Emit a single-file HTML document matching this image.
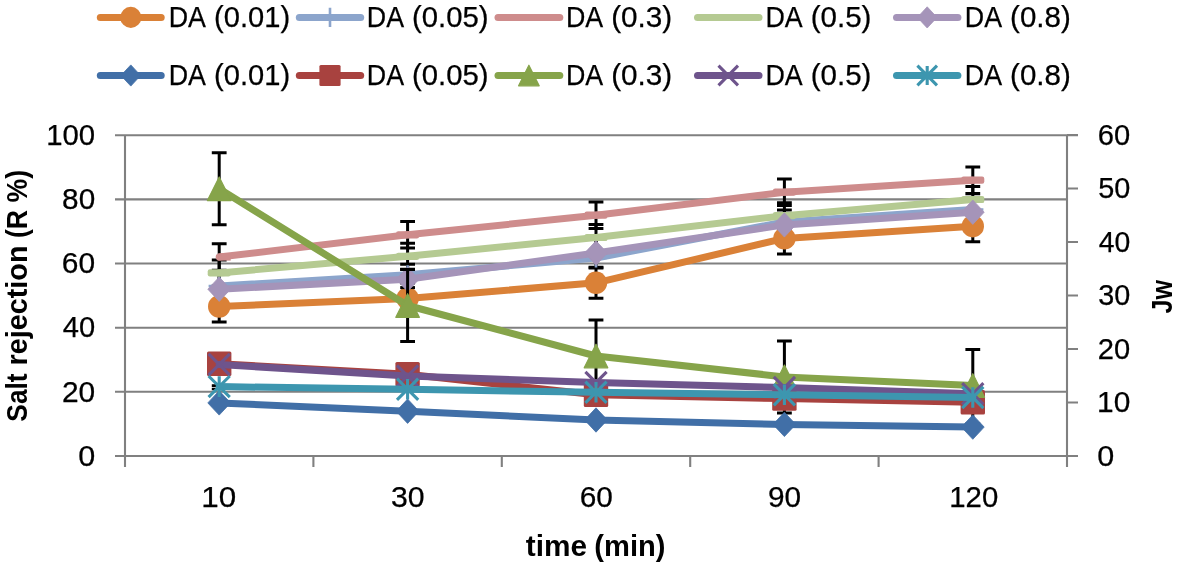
<!DOCTYPE html>
<html><head><meta charset="utf-8"><title>chart</title>
<style>
html,body{margin:0;padding:0;background:#fff;}
body{width:1181px;height:566px;overflow:hidden;}
svg{display:block;will-change:transform;}
text{font-family:"Liberation Sans",sans-serif;fill:#000;font-kerning:none;}
text.r{stroke:#000;stroke-width:0.25px;}
</style></head><body>
<svg width="1181" height="566" viewBox="0 0 1181 566">
<rect width="1181" height="566" fill="#fff"/>

<path d="M115 456.0H1078 M115 391.8H1067 M115 327.7H1067 M115 263.5H1067 M115 199.4H1067 M115 135.2H1078 M1067 456.0H1078 M1067 402.5H1078 M1067 349.0H1078 M1067 295.5H1078 M1067 242.0H1078 M1067 188.5H1078 M1067 135.0H1078 M125 135.2V467 M1067 135.2V467 M125.0 456V467 M313.4 456V467 M501.8 456V467 M690.2 456V467 M878.6 456V467 M1067.0 456V467" stroke="#808080" stroke-width="2.1" fill="none"/>
<text x="78.21" y="465.80" font-size="28.6" class="r" textLength="16.99" lengthAdjust="spacingAndGlyphs">0</text>
<text x="61.90" y="401.64" font-size="28.6" class="r" textLength="33.27" lengthAdjust="spacingAndGlyphs">20</text>
<text x="62.73" y="337.48" font-size="28.6" class="r" textLength="32.41" lengthAdjust="spacingAndGlyphs">40</text>
<text x="61.88" y="273.32" font-size="28.6" class="r" textLength="33.29" lengthAdjust="spacingAndGlyphs">60</text>
<text x="62.11" y="209.16" font-size="28.6" class="r" textLength="33.05" lengthAdjust="spacingAndGlyphs">80</text>
<text x="46.16" y="145.00" font-size="28.6" class="r" textLength="48.98" lengthAdjust="spacingAndGlyphs">100</text>
<text x="1097.21" y="465.80" font-size="28.6" class="r" textLength="16.99" lengthAdjust="spacingAndGlyphs">0</text>
<text x="1097.02" y="412.30" font-size="28.6" class="r" textLength="33.24" lengthAdjust="spacingAndGlyphs">10</text>
<text x="1097.83" y="358.80" font-size="28.6" class="r" textLength="32.40" lengthAdjust="spacingAndGlyphs">20</text>
<text x="1098.20" y="305.30" font-size="28.6" class="r" textLength="32.02" lengthAdjust="spacingAndGlyphs">30</text>
<text x="1098.65" y="251.80" font-size="28.6" class="r" textLength="31.56" lengthAdjust="spacingAndGlyphs">40</text>
<text x="1098.15" y="198.30" font-size="28.6" class="r" textLength="32.08" lengthAdjust="spacingAndGlyphs">50</text>
<text x="1097.82" y="144.80" font-size="28.6" class="r" textLength="32.42" lengthAdjust="spacingAndGlyphs">60</text>
<text x="201.31" y="507.10" font-size="28.6" class="r" textLength="34.92" lengthAdjust="spacingAndGlyphs">10</text>
<text x="391.05" y="507.10" font-size="28.6" class="r" textLength="33.63" lengthAdjust="spacingAndGlyphs">30</text>
<text x="579.79" y="507.10" font-size="28.6" class="r" textLength="33.18" lengthAdjust="spacingAndGlyphs">60</text>
<text x="768.00" y="507.10" font-size="28.6" class="r" textLength="33.16" lengthAdjust="spacingAndGlyphs">90</text>
<text x="949.26" y="507.10" font-size="28.6" class="r" textLength="48.98" lengthAdjust="spacingAndGlyphs">120</text>
<text x="525.84" y="555.70" font-size="28.6" font-weight="bold" textLength="61.28" lengthAdjust="spacingAndGlyphs">time</text>
<text x="594.35" y="555.70" font-size="28.6" font-weight="bold" textLength="71.10" lengthAdjust="spacingAndGlyphs">(min)</text>
<g transform="translate(26.5,0) rotate(-90)">
<text x="-421.66" y="0.00" font-size="29.6" font-weight="bold" textLength="48.28" lengthAdjust="spacingAndGlyphs">Salt</text>
<text x="-365.40" y="0.00" font-size="29.6" font-weight="bold" textLength="119.88" lengthAdjust="spacingAndGlyphs">rejection</text>
<text x="-238.03" y="0.00" font-size="29.6" font-weight="bold" textLength="68.16" lengthAdjust="spacingAndGlyphs">(R %)</text>
</g>
<g transform="translate(1171.5,0) rotate(-90)">
<text x="-313.38" y="0.00" font-size="29.6" font-weight="bold" textLength="33.53" lengthAdjust="spacingAndGlyphs">Jw</text>
</g>
<path d="M100.3 17.4H161.2" stroke="#DA8137" stroke-width="7.0" stroke-linecap="round"/>
<circle cx="130.8" cy="17.4" r="10.53" fill="#DA8137"/>
<text x="168.70" y="26.90" font-size="28.6" class="r" textLength="37.25" lengthAdjust="spacingAndGlyphs">DA</text>
<text x="213.99" y="26.90" font-size="28.6" class="r" textLength="76.11" lengthAdjust="spacingAndGlyphs">(0.01)</text>
<path d="M299.3 17.4H360.7" stroke="#8CA5CC" stroke-width="7.0" stroke-linecap="round"/>
<path d="M330.0 7.8L330.0 27.0M319.4 17.4H340.6" stroke="#8CA5CC" stroke-width="2.6" fill="none"/>
<text x="366.80" y="26.90" font-size="28.6" class="r" textLength="37.25" lengthAdjust="spacingAndGlyphs">DA</text>
<text x="412.08" y="26.90" font-size="28.6" class="r" textLength="76.53" lengthAdjust="spacingAndGlyphs">(0.05)</text>
<path d="M498.0 17.4H559.8" stroke="#CE8C8C" stroke-width="7.0" stroke-linecap="round"/>
<text x="565.90" y="26.90" font-size="28.6" class="r" textLength="37.25" lengthAdjust="spacingAndGlyphs">DA</text>
<text x="611.16" y="26.90" font-size="28.6" class="r" textLength="61.08" lengthAdjust="spacingAndGlyphs">(0.3)</text>
<path d="M697.5 17.4H759.0" stroke="#B5CA92" stroke-width="7.0" stroke-linecap="round"/>
<text x="765.40" y="26.90" font-size="28.6" class="r" textLength="37.25" lengthAdjust="spacingAndGlyphs">DA</text>
<text x="810.67" y="26.90" font-size="28.6" class="r" textLength="60.77" lengthAdjust="spacingAndGlyphs">(0.5)</text>
<path d="M896.5 17.4H957.9" stroke="#A594B9" stroke-width="7.0" stroke-linecap="round"/>
<path d="M927.2 6.8L937.0 17.4L927.2 28.0L917.4 17.4Z" fill="#A594B9" stroke="#A594B9" stroke-width="0.8" stroke-linejoin="round"/>
<text x="964.80" y="26.90" font-size="28.6" class="r" textLength="37.25" lengthAdjust="spacingAndGlyphs">DA</text>
<text x="1010.07" y="26.90" font-size="28.6" class="r" textLength="60.77" lengthAdjust="spacingAndGlyphs">(0.8)</text>
<path d="M100.3 75.5H161.2" stroke="#416FA7" stroke-width="7.0" stroke-linecap="round"/>
<path d="M130.8 64.9L140.6 75.5L130.8 86.1L120.9 75.5Z" fill="#416FA7" stroke="#416FA7" stroke-width="0.8" stroke-linejoin="round"/>
<text x="168.70" y="84.70" font-size="28.6" class="r" textLength="37.25" lengthAdjust="spacingAndGlyphs">DA</text>
<text x="213.99" y="84.70" font-size="28.6" class="r" textLength="76.11" lengthAdjust="spacingAndGlyphs">(0.01)</text>
<path d="M299.3 75.5H360.7" stroke="#A8423F" stroke-width="7.0" stroke-linecap="round"/>
<rect x="319.4" y="64.9" width="21.2" height="21.2" rx="1.5" fill="#A8423F"/>
<text x="366.80" y="84.70" font-size="28.6" class="r" textLength="37.25" lengthAdjust="spacingAndGlyphs">DA</text>
<text x="412.08" y="84.70" font-size="28.6" class="r" textLength="76.53" lengthAdjust="spacingAndGlyphs">(0.05)</text>
<path d="M498.0 75.5H559.8" stroke="#86A44A" stroke-width="7.0" stroke-linecap="round"/>
<path d="M528.9 65.2L539.2 85.8L518.6 85.8Z" fill="#86A44A" stroke="#86A44A" stroke-width="1.2" stroke-linejoin="round"/>
<text x="565.90" y="84.70" font-size="28.6" class="r" textLength="37.25" lengthAdjust="spacingAndGlyphs">DA</text>
<text x="611.16" y="84.70" font-size="28.6" class="r" textLength="61.08" lengthAdjust="spacingAndGlyphs">(0.3)</text>
<path d="M697.5 75.5H759.0" stroke="#6E548C" stroke-width="7.0" stroke-linecap="round"/>
<path d="M718.5 65.7L738.0 85.3M738.0 65.7L718.5 85.3" stroke="#6E548C" stroke-width="3.1" fill="none"/>
<text x="765.40" y="84.70" font-size="28.6" class="r" textLength="37.25" lengthAdjust="spacingAndGlyphs">DA</text>
<text x="810.67" y="84.70" font-size="28.6" class="r" textLength="60.77" lengthAdjust="spacingAndGlyphs">(0.5)</text>
<path d="M896.5 75.5H957.9" stroke="#3D96AF" stroke-width="7.0" stroke-linecap="round"/>
<path d="M917.4 65.7L937.0 85.3M937.0 65.7L917.4 85.3M927.2 66.0L927.2 85.0" stroke="#3D96AF" stroke-width="3.1" fill="none"/>
<text x="964.80" y="84.70" font-size="28.6" class="r" textLength="37.25" lengthAdjust="spacingAndGlyphs">DA</text>
<text x="1010.07" y="84.70" font-size="28.6" class="r" textLength="60.77" lengthAdjust="spacingAndGlyphs">(0.8)</text>
<path d="M219.2 243.7V270.3M211.8 243.7H226.6M211.8 270.3H226.6" stroke="#000" stroke-width="3" fill="none"/>
<path d="M407.6 221.5V248.1M400.2 221.5H415.0M400.2 248.1H415.0" stroke="#000" stroke-width="3" fill="none"/>
<path d="M596.0 201.9V228.5M588.6 201.9H603.4M588.6 228.5H603.4" stroke="#000" stroke-width="3" fill="none"/>
<path d="M784.4 178.9V205.5M777.0 178.9H791.8M777.0 205.5H791.8" stroke="#000" stroke-width="3" fill="none"/>
<path d="M972.8 166.9V193.5M965.4 166.9H980.2M965.4 193.5H980.2" stroke="#000" stroke-width="3" fill="none"/>
<path d="M219.2 259.9V285.9M211.8 259.9H226.6M211.8 285.9H226.6" stroke="#000" stroke-width="3" fill="none"/>
<path d="M407.6 243.3V269.3M400.2 243.3H415.0M400.2 269.3H415.0" stroke="#000" stroke-width="3" fill="none"/>
<path d="M596.0 224.5V250.5M588.6 224.5H603.4M588.6 250.5H603.4" stroke="#000" stroke-width="3" fill="none"/>
<path d="M784.4 202.7V228.7M777.0 202.7H791.8M777.0 228.7H791.8" stroke="#000" stroke-width="3" fill="none"/>
<path d="M972.8 186.5V212.5M965.4 186.5H980.2M965.4 212.5H980.2" stroke="#000" stroke-width="3" fill="none"/>
<path d="M219.2 291.0V322.0M211.8 291.0H226.6M211.8 322.0H226.6" stroke="#000" stroke-width="3" fill="none"/>
<path d="M407.6 283.0V314.0M400.2 283.0H415.0M400.2 314.0H415.0" stroke="#000" stroke-width="3" fill="none"/>
<path d="M596.0 267.3V298.3M588.6 267.3H603.4M588.6 298.3H603.4" stroke="#000" stroke-width="3" fill="none"/>
<path d="M784.4 222.9V253.9M777.0 222.9H791.8M777.0 253.9H791.8" stroke="#000" stroke-width="3" fill="none"/>
<path d="M972.8 210.7V241.7M965.4 210.7H980.2M965.4 241.7H980.2" stroke="#000" stroke-width="3" fill="none"/>
<path d="M219.2 274.2V304.2M211.8 274.2H226.6M211.8 304.2H226.6" stroke="#000" stroke-width="3" fill="none"/>
<path d="M407.6 264.3V294.3M400.2 264.3H415.0M400.2 294.3H415.0" stroke="#000" stroke-width="3" fill="none"/>
<path d="M596.0 238.0V268.0M588.6 238.0H603.4M588.6 268.0H603.4" stroke="#000" stroke-width="3" fill="none"/>
<path d="M784.4 209.9V239.9M777.0 209.9H791.8M777.0 239.9H791.8" stroke="#000" stroke-width="3" fill="none"/>
<path d="M972.8 197.2V227.2M965.4 197.2H980.2M965.4 227.2H980.2" stroke="#000" stroke-width="3" fill="none"/>
<polyline points="219.2,306.5 407.6,298.5 596.0,282.8 784.4,238.4 972.8,226.2" fill="none" stroke="#DA8137" stroke-width="7.0" stroke-linejoin="round" stroke-linecap="round"/>
<circle cx="219.2" cy="306.5" r="11.20" fill="#DA8137"/>
<circle cx="407.6" cy="298.5" r="11.20" fill="#DA8137"/>
<circle cx="596.0" cy="282.8" r="11.20" fill="#DA8137"/>
<circle cx="784.4" cy="238.4" r="11.20" fill="#DA8137"/>
<circle cx="972.8" cy="226.2" r="11.20" fill="#DA8137"/>
<polyline points="219.2,286.0 407.6,274.8 596.0,258.0 784.4,222.0 972.8,209.5" fill="none" stroke="#8CA5CC" stroke-width="7.0" stroke-linejoin="round" stroke-linecap="round"/>
<path d="M219.2 276.4L219.2 295.6M208.6 286.0H229.8" stroke="#8CA5CC" stroke-width="2.6" fill="none"/>
<path d="M407.6 265.2L407.6 284.4M397.0 274.8H418.2" stroke="#8CA5CC" stroke-width="2.6" fill="none"/>
<path d="M596.0 248.4L596.0 267.6M585.4 258.0H606.6" stroke="#8CA5CC" stroke-width="2.6" fill="none"/>
<path d="M784.4 212.4L784.4 231.6M773.8 222.0H795.0" stroke="#8CA5CC" stroke-width="2.6" fill="none"/>
<path d="M972.8 199.9L972.8 219.1M962.2 209.5H983.4" stroke="#8CA5CC" stroke-width="2.6" fill="none"/>
<polyline points="219.2,257.0 407.6,234.8 596.0,215.2 784.4,192.2 972.8,180.2" fill="none" stroke="#CE8C8C" stroke-width="7.0" stroke-linejoin="round" stroke-linecap="round"/>
<rect x="218.2" y="253.4" width="12.5" height="7.2" fill="#CE8C8C"/>
<rect x="396.1" y="231.2" width="23" height="7.2" rx="2.2" fill="#CE8C8C"/>
<rect x="584.5" y="211.6" width="23" height="7.2" rx="2.2" fill="#CE8C8C"/>
<rect x="772.9" y="188.6" width="23" height="7.2" rx="2.2" fill="#CE8C8C"/>
<rect x="961.3" y="176.6" width="23" height="7.2" rx="2.2" fill="#CE8C8C"/>
<polyline points="219.2,272.9 407.6,256.3 596.0,237.5 784.4,215.7 972.8,199.5" fill="none" stroke="#B5CA92" stroke-width="7.0" stroke-linejoin="round" stroke-linecap="round"/>
<rect x="207.7" y="269.3" width="23" height="7.2" rx="2.2" fill="#B5CA92"/>
<rect x="396.1" y="252.7" width="23" height="7.2" rx="2.2" fill="#B5CA92"/>
<rect x="584.5" y="233.9" width="23" height="7.2" rx="2.2" fill="#B5CA92"/>
<rect x="772.9" y="212.1" width="23" height="7.2" rx="2.2" fill="#B5CA92"/>
<rect x="961.3" y="195.9" width="23" height="7.2" rx="2.2" fill="#B5CA92"/>
<path d="M400.2 287.6H415.0" stroke="#000" stroke-width="3"/>
<polyline points="219.2,289.2 407.6,279.3 596.0,253.0 784.4,224.9 972.8,212.2" fill="none" stroke="#A594B9" stroke-width="7.0" stroke-linejoin="round" stroke-linecap="round"/>
<path d="M219.2 277.0L230.6 289.2L219.2 301.4L207.8 289.2Z" fill="#A594B9" stroke="#A594B9" stroke-width="0.8" stroke-linejoin="round"/>
<path d="M407.6 267.1L419.0 279.3L407.6 291.5L396.2 279.3Z" fill="#A594B9" stroke="#A594B9" stroke-width="0.8" stroke-linejoin="round"/>
<path d="M596.0 240.8L607.4 253.0L596.0 265.2L584.6 253.0Z" fill="#A594B9" stroke="#A594B9" stroke-width="0.8" stroke-linejoin="round"/>
<path d="M784.4 212.7L795.8 224.9L784.4 237.1L773.0 224.9Z" fill="#A594B9" stroke="#A594B9" stroke-width="0.8" stroke-linejoin="round"/>
<path d="M972.8 200.0L984.2 212.2L972.8 224.4L961.4 212.2Z" fill="#A594B9" stroke="#A594B9" stroke-width="0.8" stroke-linejoin="round"/>
<path d="M219.2 152.8V224.8M211.8 152.8H226.6M211.8 224.8H226.6" stroke="#000" stroke-width="3" fill="none"/>
<path d="M407.6 269.5V341.5M400.2 269.5H415.0M400.2 341.5H415.0" stroke="#000" stroke-width="3" fill="none"/>
<path d="M596.0 320.0V392.0M588.6 320.0H603.4M588.6 392.0H603.4" stroke="#000" stroke-width="3" fill="none"/>
<path d="M784.4 340.9V412.9M777.0 340.9H791.8M777.0 412.9H791.8" stroke="#000" stroke-width="3" fill="none"/>
<path d="M972.8 349.5V424.0M965.4 349.5H980.2M965.4 424.0H980.2" stroke="#000" stroke-width="3" fill="none"/>
<path d="M211.8 385.6H219.2M211.8 389H219.2" stroke="#000" stroke-width="2.6"/>
<polyline points="219.2,402.9 407.6,411.2 596.0,420.0 784.4,424.4 972.8,427.1" fill="none" stroke="#416FA7" stroke-width="7.0" stroke-linejoin="round" stroke-linecap="round"/>
<path d="M219.2 390.7L230.6 402.9L219.2 415.1L207.8 402.9Z" fill="#416FA7" stroke="#416FA7" stroke-width="0.8" stroke-linejoin="round"/>
<path d="M407.6 399.0L419.0 411.2L407.6 423.4L396.2 411.2Z" fill="#416FA7" stroke="#416FA7" stroke-width="0.8" stroke-linejoin="round"/>
<path d="M596.0 407.8L607.4 420.0L596.0 432.2L584.6 420.0Z" fill="#416FA7" stroke="#416FA7" stroke-width="0.8" stroke-linejoin="round"/>
<path d="M784.4 412.2L795.8 424.4L784.4 436.6L773.0 424.4Z" fill="#416FA7" stroke="#416FA7" stroke-width="0.8" stroke-linejoin="round"/>
<path d="M972.8 414.9L984.2 427.1L972.8 439.3L961.4 427.1Z" fill="#416FA7" stroke="#416FA7" stroke-width="0.8" stroke-linejoin="round"/>
<polyline points="219.2,363.7 407.6,374.2 596.0,394.8 784.4,398.6 972.8,402.2" fill="none" stroke="#A8423F" stroke-width="7.0" stroke-linejoin="round" stroke-linecap="round"/>
<rect x="207.0" y="351.5" width="24.4" height="24.4" rx="1.5" fill="#A8423F"/>
<rect x="395.4" y="362.0" width="24.4" height="24.4" rx="1.5" fill="#A8423F"/>
<rect x="583.8" y="382.6" width="24.4" height="24.4" rx="1.5" fill="#A8423F"/>
<rect x="772.2" y="386.4" width="24.4" height="24.4" rx="1.5" fill="#A8423F"/>
<rect x="960.6" y="390.0" width="24.4" height="24.4" rx="1.5" fill="#A8423F"/>
<polyline points="219.2,188.8 407.6,305.5 596.0,356.0 784.4,376.9 972.8,385.5" fill="none" stroke="#86A44A" stroke-width="7.0" stroke-linejoin="round" stroke-linecap="round"/>
<path d="M219.2 177.0L231.0 200.6L207.4 200.6Z" fill="#86A44A" stroke="#86A44A" stroke-width="1.2" stroke-linejoin="round"/>
<path d="M407.6 293.7L419.4 317.3L395.8 317.3Z" fill="#86A44A" stroke="#86A44A" stroke-width="1.2" stroke-linejoin="round"/>
<path d="M596.0 344.2L607.8 367.8L584.2 367.8Z" fill="#86A44A" stroke="#86A44A" stroke-width="1.2" stroke-linejoin="round"/>
<path d="M784.4 365.1L796.2 388.7L772.6 388.7Z" fill="#86A44A" stroke="#86A44A" stroke-width="1.2" stroke-linejoin="round"/>
<path d="M972.8 373.7L984.6 397.3L961.0 397.3Z" fill="#86A44A" stroke="#86A44A" stroke-width="1.2" stroke-linejoin="round"/>
<polyline points="219.2,364.5 407.6,376.0 596.0,382.5 784.4,387.5 972.8,393.7" fill="none" stroke="#6E548C" stroke-width="7.0" stroke-linejoin="round" stroke-linecap="round"/>
<path d="M208.6 353.9L229.8 375.1M229.8 353.9L208.6 375.1" stroke="#6E548C" stroke-width="3.1" fill="none"/>
<path d="M397.0 365.4L418.2 386.6M418.2 365.4L397.0 386.6" stroke="#6E548C" stroke-width="3.1" fill="none"/>
<path d="M585.4 371.9L606.6 393.1M606.6 371.9L585.4 393.1" stroke="#6E548C" stroke-width="3.1" fill="none"/>
<path d="M773.8 376.9L795.0 398.1M795.0 376.9L773.8 398.1" stroke="#6E548C" stroke-width="3.1" fill="none"/>
<path d="M962.2 383.1L983.4 404.3M983.4 383.1L962.2 404.3" stroke="#6E548C" stroke-width="3.1" fill="none"/>
<polyline points="219.2,386.6 407.6,389.3 596.0,392.3 784.4,394.7 972.8,397.5" fill="none" stroke="#3D96AF" stroke-width="7.0" stroke-linejoin="round" stroke-linecap="round"/>
<path d="M208.6 376.0L229.8 397.2M229.8 376.0L208.6 397.2M219.2 376.3L219.2 396.9" stroke="#3D96AF" stroke-width="3.1" fill="none"/>
<path d="M397.0 378.7L418.2 399.9M418.2 378.7L397.0 399.9M407.6 379.0L407.6 399.6" stroke="#3D96AF" stroke-width="3.1" fill="none"/>
<path d="M585.4 381.7L606.6 402.9M606.6 381.7L585.4 402.9M596.0 382.0L596.0 402.6" stroke="#3D96AF" stroke-width="3.1" fill="none"/>
<path d="M773.8 384.1L795.0 405.3M795.0 384.1L773.8 405.3M784.4 384.4L784.4 405.0" stroke="#3D96AF" stroke-width="3.1" fill="none"/>
<path d="M962.2 386.9L983.4 408.1M983.4 386.9L962.2 408.1M972.8 387.2L972.8 407.8" stroke="#3D96AF" stroke-width="3.1" fill="none"/>
</svg></body></html>
